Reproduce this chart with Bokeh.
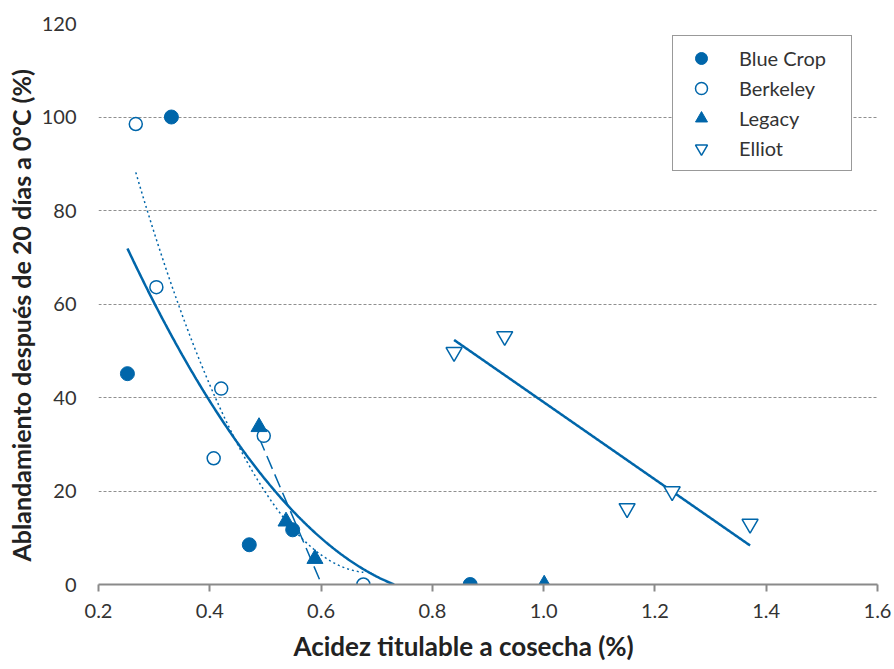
import numpy as np
from bokeh.plotting import figure
from bokeh.models import (Legend, LegendItem, FixedTicker, NumeralTickFormatter,
                          Range1d, Title)
from bokeh.embed import file_html
from bokeh.resources import INLINE

# ---- data ----
blue_crop_x = [0.331, 0.252, 0.471, 0.549, 0.868]
blue_crop_y = [100.0, 45.1, 8.5, 11.7, 0.0]

berkeley_x = [0.267, 0.304, 0.4205, 0.407, 0.497, 0.676]
berkeley_y = [98.5, 63.6, 41.9, 27.0, 31.8, 0.0]

legacy_x = [0.4885, 0.537, 0.589, 1.001]
legacy_y = [33.7, 13.5, 5.5, 0.0]

elliot_x = [0.839, 0.930, 1.150, 1.231, 1.371]
elliot_y = [49.7, 53.1, 16.3, 19.9, 12.95]

x_ticks = [0.2, 0.4, 0.6, 0.8, 1.0, 1.2, 1.4, 1.6]
y_ticks = [0, 20, 40, 60, 80, 100, 120]

series_names = ["Blue Crop", "Berkeley", "Legacy", "Elliot"]

x_label = "Acidez titulable a cosecha (%)"
y_label = "Ablandamiento después de 20 días a 0°C (%)"

BLUE = "#0066AA"
FONT = "Lato"

p = figure(width=894, height=669, output_backend="svg", toolbar_location=None,
           x_range=Range1d(0.2, 1.6), y_range=Range1d(0, 120),
           min_border_left=98, min_border_right=17, min_border_top=23,
           min_border_bottom=82)
p.outline_line_color = None
p.background_fill_color = "white"


def curve(xs, ys, deg, npts=300):
    """Least-squares trend line over the series' x range, stopped at y = 0."""
    c = np.polyfit(xs, ys, deg)
    xx = np.linspace(min(xs), max(xs), npts)
    yy = np.polyval(c, xx)
    neg = np.where(yy < 0)[0]
    if len(neg):
        k = neg[0]
        x0, x1 = xx[k - 1], xx[k]
        y0, y1 = yy[k - 1], yy[k]
        xc = x0 + (x1 - x0) * y0 / (y0 - y1)
        xx = list(xx[:k]) + [xc]
        yy = list(yy[:k]) + [0.0]
    return list(xx), list(yy)


# trend lines fitted to the series
bx, by = curve(blue_crop_x, blue_crop_y, 2)
p.line(bx, by, line_color=BLUE, line_width=2.5)
kx, ky = curve(berkeley_x, berkeley_y, 2)
p.line(kx, ky, line_color=BLUE, line_width=1.5, line_dash="2 3")
cl = np.polyfit(legacy_x[:3], legacy_y[:3], 1)
lx2 = [min(legacy_x), -cl[1] / cl[0]]
p.line(lx2, [float(np.polyval(cl, lx2[0])), 0.0], line_color=BLUE, line_width=1.5,
       line_dash="14 6")
ex, ey = curve(elliot_x, elliot_y, 1)
p.line(ex, ey, line_color=BLUE, line_width=2.5)

r1 = p.scatter(blue_crop_x, blue_crop_y, marker="circle", size=14,
               fill_color=BLUE, line_color=BLUE)
r2 = p.scatter(berkeley_x, berkeley_y, marker="circle", size=13,
               fill_color="white", line_color=BLUE, line_width=1.5)
r3 = p.scatter(legacy_x, legacy_y, marker="triangle", size=16,
               fill_color=BLUE, line_color=BLUE)
r4 = p.scatter(elliot_x, elliot_y, marker="inverted_triangle", size=16,
               fill_color="white", line_color=BLUE, line_width=1.5)

xa = p.xaxis[0]
xa.ticker = FixedTicker(ticks=x_ticks)
xa.formatter = NumeralTickFormatter(format="0.0")
xa.axis_line_color = "#8a8a8a"
xa.axis_line_width = 2
xa.major_tick_line_color = "#8a8a8a"
xa.major_tick_line_width = 2
xa.major_tick_out = 7
xa.major_tick_in = 0
xa.minor_tick_line_color = None
xa.major_label_text_font = FONT
xa.major_label_text_font_size = "20px"
xa.major_label_text_color = "#333333"
xa.major_label_standoff = 12

ya = p.yaxis[0]
ya.ticker = FixedTicker(ticks=y_ticks)
ya.formatter = NumeralTickFormatter(format="0")
ya.axis_line_color = None
ya.major_tick_line_color = None
ya.minor_tick_line_color = None
ya.major_label_text_font = FONT
ya.major_label_text_font_size = "20px"
ya.major_label_text_color = "#333333"
ya.major_label_standoff = 16

# axis titles (placed as titles so they can be shifted like the original)
xt = Title(text=x_label, align="left", offset=195, standoff=15,
           text_font=FONT, text_font_style="bold", text_font_size="26px",
           text_color="#222222")
p.add_layout(xt, "below")
yt = Title(text=y_label, align="left", offset=23, standoff=5,
           text_font=FONT, text_font_style="bold", text_font_size="25px",
           text_color="#222222")
p.add_layout(yt, "left")

p.xgrid.grid_line_color = None
p.ygrid.ticker = FixedTicker(ticks=y_ticks[1:])
p.ygrid.grid_line_color = "#8f8f8f"
p.ygrid.grid_line_dash = "3 2"
p.ygrid.grid_line_width = 1

legend = Legend(items=[LegendItem(label=n, renderers=[r]) for n, r in
                       zip(series_names, [r1, r2, r3, r4])],
                location=(574, 413))
legend.border_line_color = "#333333"
legend.border_line_width = 1.2
legend.background_fill_color = "white"
legend.background_fill_alpha = 1
legend.label_text_font = FONT
legend.label_text_font_size = "20px"
legend.label_text_color = "#333333"
legend.padding = 7
legend.margin = 0
legend.spacing = 0
legend.glyph_width = 42
legend.glyph_height = 30
legend.label_standoff = 17
legend.label_width = 105
legend.label_height = 30
p.add_layout(legend, "center")

open("out.html", "w").write(file_html(p, INLINE))
